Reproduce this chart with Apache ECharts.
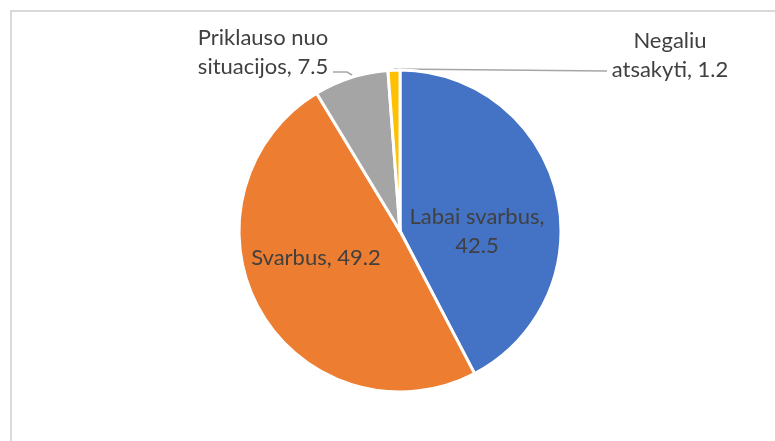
<!DOCTYPE html>
<html>
<head>
<meta charset="utf-8">
<script src="https://cdn.jsdelivr.net/npm/echarts@6/dist/echarts.min.js"></script>
<style>
  html, body { margin: 0; padding: 0; background: #fff; }
  #chart { width: 775px; height: 441px; }
</style>
</head>
<body>
<div id="chart"></div>
<script>
// kategorijos ir reikšmės
const categories = ["Labai svarbus", "Svarbus", "Priklauso nuo situacijos", "Negaliu atsakyti"];
const values = [42.5, 49.2, 7.5, 1.2];
const colors = ["#4472C4", "#ED7D31", "#A5A5A5", "#FFC000"];
// etikečių tekstas (su eilučių laužymu kaip originale)
const labelTexts = ["Labai svarbus,\n42.5", "Svarbus, 49.2", "Priklauso nuo\nsituacijos, 7.5", "Negaliu\natsakyti, 1.2"];

// etikečių vietos
const labelPos = [
  {x: 477, y: 231, align: "center"},
  {x: 316, y: 258, align: "center"},
  {x: 263, y: 52, align: "center"},
  {x: 670, y: 55, align: "center"}
];
const linePts = [
  null,
  null,
  [[333, 72], [347, 72], [352, 75]],
  [[607, 71], [394, 69]]
];

let myChart = echarts.init(document.getElementById("chart"));
myChart.setOption({
  animation: false,
  graphic: [{
    type: "rect",
    shape: {x: 11, y: 11, width: 800, height: 500},
    style: {fill: "none", stroke: "#d9d9d9", lineWidth: 2},
    silent: true
  }],
  series: [{
    type: "pie",
    center: [400, 231],
    radius: 161,
    startAngle: 90,
    clockwise: true,
    itemStyle: {borderColor: "#fff", borderWidth: 3},
    label: {
      show: true,
      fontFamily: "Lato",
      fontSize: 22,
      lineHeight: 29,
      color: "#404040",
      formatter: p => labelTexts[p.dataIndex]
    },
    labelLine: {
      show: true,
      lineStyle: {color: "#a6a6a6", width: 1.5}
    },
    labelLayout: function (params) {
      const i = params.dataIndex;
      const pos = labelPos[i];
      const out = {x: pos.x, y: pos.y, align: pos.align, verticalAlign: "middle"};
      if (linePts[i]) out.labelLinePoints = linePts[i];
      return out;
    },
    data: categories.map((c, i) => ({
      name: c,
      value: values[i],
      itemStyle: {color: colors[i]},
      labelLine: {show: linePts[i] != null}
    }))
  }]
});
</script>
</body>
</html>
